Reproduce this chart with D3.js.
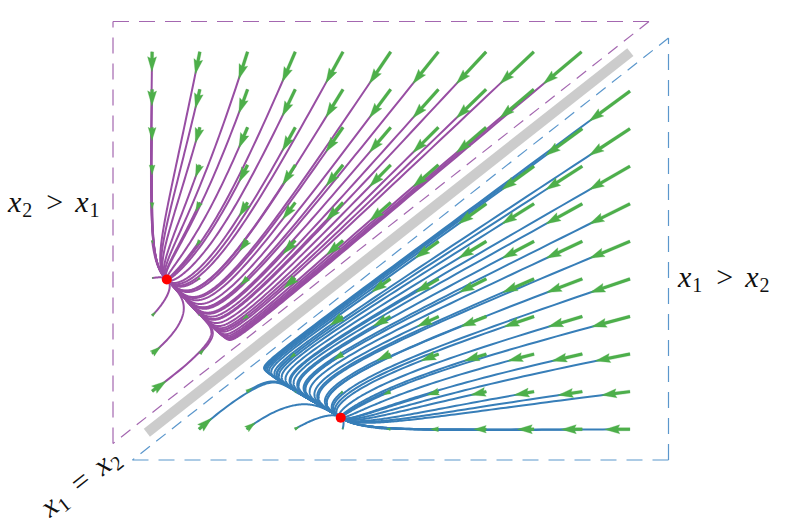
<!DOCTYPE html>
<html>
<head>
<meta charset="utf-8">
<script src="https://cdn.jsdelivr.net/npm/d3@7"></script>
<style>
  body { margin: 0; background: #ffffff; }
  svg { display: block; }
  .math { font-family: "Liberation Serif", "Times New Roman", "DejaVu Serif", serif; }
</style>
</head>
<body>
<svg id="chart" width="789" height="524"></svg>
<script>
// ---- model parameters (symmetric mutual-repression system) ----
const basalRate = 0.066;
const maxRate = 0.335;
const halfSat = 0.226;
const hillN = 4;

// ---- quiver / streamline seed grid (data units, x1 and x2) ----
const gridX1 = [0.073, 0.162, 0.251, 0.340, 0.429, 0.518, 0.607, 0.696, 0.785, 0.874, 0.963];
const gridX2 = [0.928, 0.839, 0.749, 0.660, 0.571, 0.481, 0.392, 0.303, 0.213, 0.124, 0.035];

// ---- stable nodes ----
const nodeUpper = [0.1004, 0.3885];   // x2 > x1 region
const nodeLower = [0.3885, 0.1004];   // x1 > x2 region

// ---- separatrix band extent along the diagonal ----
const separatrixRange = [0.045, 0.947];

// ---- labels ----
const labelUpper = ["x", "2", ">", "x", "1"];
const labelLower = ["x", "1", ">", "x", "2"];
const labelDiag  = ["x", "1", "=", "x", "2"];

// ---- colours ----
const colUpper = "#984ea3";
const colLower = "#377eb8";
const colArrow = "#4daf4a";
const colBand = "#cccccc";
const colNode = "#ff0000";

const svg = d3.select("#chart");

const x = d3.scaleLinear().domain([0, 1]).range([113, 649]);
const y = d3.scaleLinear().domain([0, 1]).range([443.5, 21.5]);
const lowerShift = [19.5, 16.5];

function field(p) {
  const a = p[0], b = p[1];
  return [
    basalRate + maxRate / (1 + Math.pow(b / halfSat, hillN)) - a,
    basalRate + maxRate / (1 + Math.pow(a / halfSat, hillN)) - b
  ];
}

function trace(start, node) {
  let p = start.slice();
  const pts = [p.slice()];
  const dt = 0.01;
  for (let i = 0; i < 8000; i++) {
    const k1 = field(p);
    const k2 = field([p[0] + dt / 2 * k1[0], p[1] + dt / 2 * k1[1]]);
    const k3 = field([p[0] + dt / 2 * k2[0], p[1] + dt / 2 * k2[1]]);
    const k4 = field([p[0] + dt * k3[0], p[1] + dt * k3[1]]);
    p = [p[0] + dt / 6 * (k1[0] + 2 * k2[0] + 2 * k3[0] + k4[0]),
         p[1] + dt / 6 * (k1[1] + 2 * k2[1] + 2 * k3[1] + k4[1])];
    if (i % 3 === 0) pts.push(p.slice());
    if (Math.hypot(p[0] - node[0], p[1] - node[1]) < 0.004) break;
  }
  pts.push(node.slice());
  return pts;
}

// seed points
const upperSeeds = [];
const lowerSeeds = [];
gridX2.forEach(b => gridX1.forEach(a => {
  if (a < b) {
    upperSeeds.push([a, b]);
    lowerSeeds.push([b, a]);
  }
}));

// ---- dashed triangles ----
function dashedEdge(g, p0, p1, color, dash) {
  g.append("line")
    .attr("x1", x(p0[0])).attr("y1", y(p0[1]))
    .attr("x2", x(p1[0])).attr("y2", y(p1[1]))
    .attr("stroke", color).attr("stroke-width", 1.2)
    .attr("stroke-dasharray", dash).attr("fill", "none");
}

const gUpper = svg.append("g");
const gLower = svg.append("g").attr("transform", `translate(${lowerShift[0]},${lowerShift[1]})`);

dashedEdge(gUpper, [0, 1], [1, 1], "#a467b0", "16,10");
dashedEdge(gUpper, [0, 0], [0, 1], "#a467b0", "16,10");
dashedEdge(gUpper, [1, 1], [0, 0], "#a467b0", "12,8");

dashedEdge(gLower, [0, 0], [1, 0], "#5b97cc", "16,10");
dashedEdge(gLower, [1, 0], [1, 1], "#5b97cc", "16,10");
dashedEdge(gLower, [1, 1], [0, 0], "#5b97cc", "12,8");

// ---- separatrix band ----
svg.append("g")
  .attr("transform", `translate(${lowerShift[0] / 2},${lowerShift[1] / 2})`)
  .append("line")
  .attr("x1", x(separatrixRange[0])).attr("y1", y(separatrixRange[0]))
  .attr("x2", x(separatrixRange[1])).attr("y2", y(separatrixRange[1]))
  .attr("stroke", colBand).attr("stroke-width", 10).attr("stroke-linecap", "butt");

// ---- streamlines ----
const line = d3.line().x(d => x(d[0])).y(d => y(d[1])).curve(d3.curveLinear);

gUpper.append("g").selectAll("path").data(upperSeeds.map(s => trace(s, nodeUpper)))
  .join("path").attr("d", line)
  .attr("fill", "none").attr("stroke", colUpper).attr("stroke-width", 2)
  .attr("stroke-linejoin", "round");

gLower.append("g").selectAll("path").data(lowerSeeds.map(s => trace(s, nodeLower)))
  .join("path").attr("d", line)
  .attr("fill", "none").attr("stroke", colLower).attr("stroke-width", 2)
  .attr("stroke-linejoin", "round");

// ---- quiver arrows (matplotlib-like shape) ----
const quiverScale = 11.3;
const shaftW = 3;
function arrowPolygon(p) {
  const v = field(p);
  const px = x(p[0]), py = y(p[1]);
  const dx = (x(p[0] + v[0]) - px) / quiverScale;
  const dy = (y(p[1] + v[1]) - py) / quiverScale;
  const len = Math.hypot(dx, dy) / shaftW;
  const ang = Math.atan2(dy, dx);
  let shape;
  if (len >= 5) {
    shape = [[0, 0.5], [len - 4.5, 0.5], [len - 5, 1.5], [len, 0], [len - 5, -1.5], [len - 4.5, -0.5], [0, -0.5]];
  } else {
    const s = Math.max(len, 0.6) / 5;
    shape = [[0, 0.5], [0.5, 0.5], [0, 1.5], [5, 0], [0, -1.5], [0.5, -0.5], [0, -0.5]].map(q => [q[0] * s, q[1] * s]);
  }
  const c = Math.cos(ang), sn = Math.sin(ang);
  return shape.map(q => {
    const lx = q[0] * shaftW, ly = q[1] * shaftW;
    return [px + lx * c - ly * sn, py + lx * sn + ly * c];
  });
}

function drawArrows(g, seeds) {
  g.append("g").selectAll("polygon").data(seeds.map(arrowPolygon))
    .join("polygon")
    .attr("points", d => d.map(q => q.join(",")).join(" "))
    .attr("fill", colArrow).attr("stroke", colArrow).attr("stroke-width", 0.3);
}
drawArrows(gUpper, upperSeeds);
drawArrows(gLower, lowerSeeds);

// ---- nodes ----
gUpper.append("circle").attr("cx", x(nodeUpper[0])).attr("cy", y(nodeUpper[1])).attr("r", 5).attr("fill", colNode);
gLower.append("circle").attr("cx", x(nodeLower[0])).attr("cy", y(nodeLower[1])).attr("r", 5).attr("fill", colNode);

// ---- labels ----
function mathLabel(sel, parts) {
  const t = sel.append("text").attr("class", "math")
    .style("font-family", "'Liberation Serif', 'Times New Roman', 'DejaVu Serif', serif")
    .attr("font-size", 30).attr("fill", "#111");
  parts.forEach((p, i) => {
    const ts = t.append("tspan").text(p);
    if (i === 0 || i === 3) ts.attr("font-style", "italic");
    if (i === 1 || i === 4) ts.attr("font-size", 20).attr("dy", 5).attr("dx", 1);
    if (i === 2) ts.attr("dy", -5).attr("dx", 14);
    if (i === 3) ts.attr("dx", 12);
  });
  return t;
}

mathLabel(svg.append("g").attr("transform", "translate(8,212)"), labelUpper);
mathLabel(svg.append("g").attr("transform", "translate(678,287)"), labelLower);
mathLabel(svg.append("g").attr("transform", "translate(50,518) rotate(-38.2)"), labelDiag);
</script>
</body>
</html>
